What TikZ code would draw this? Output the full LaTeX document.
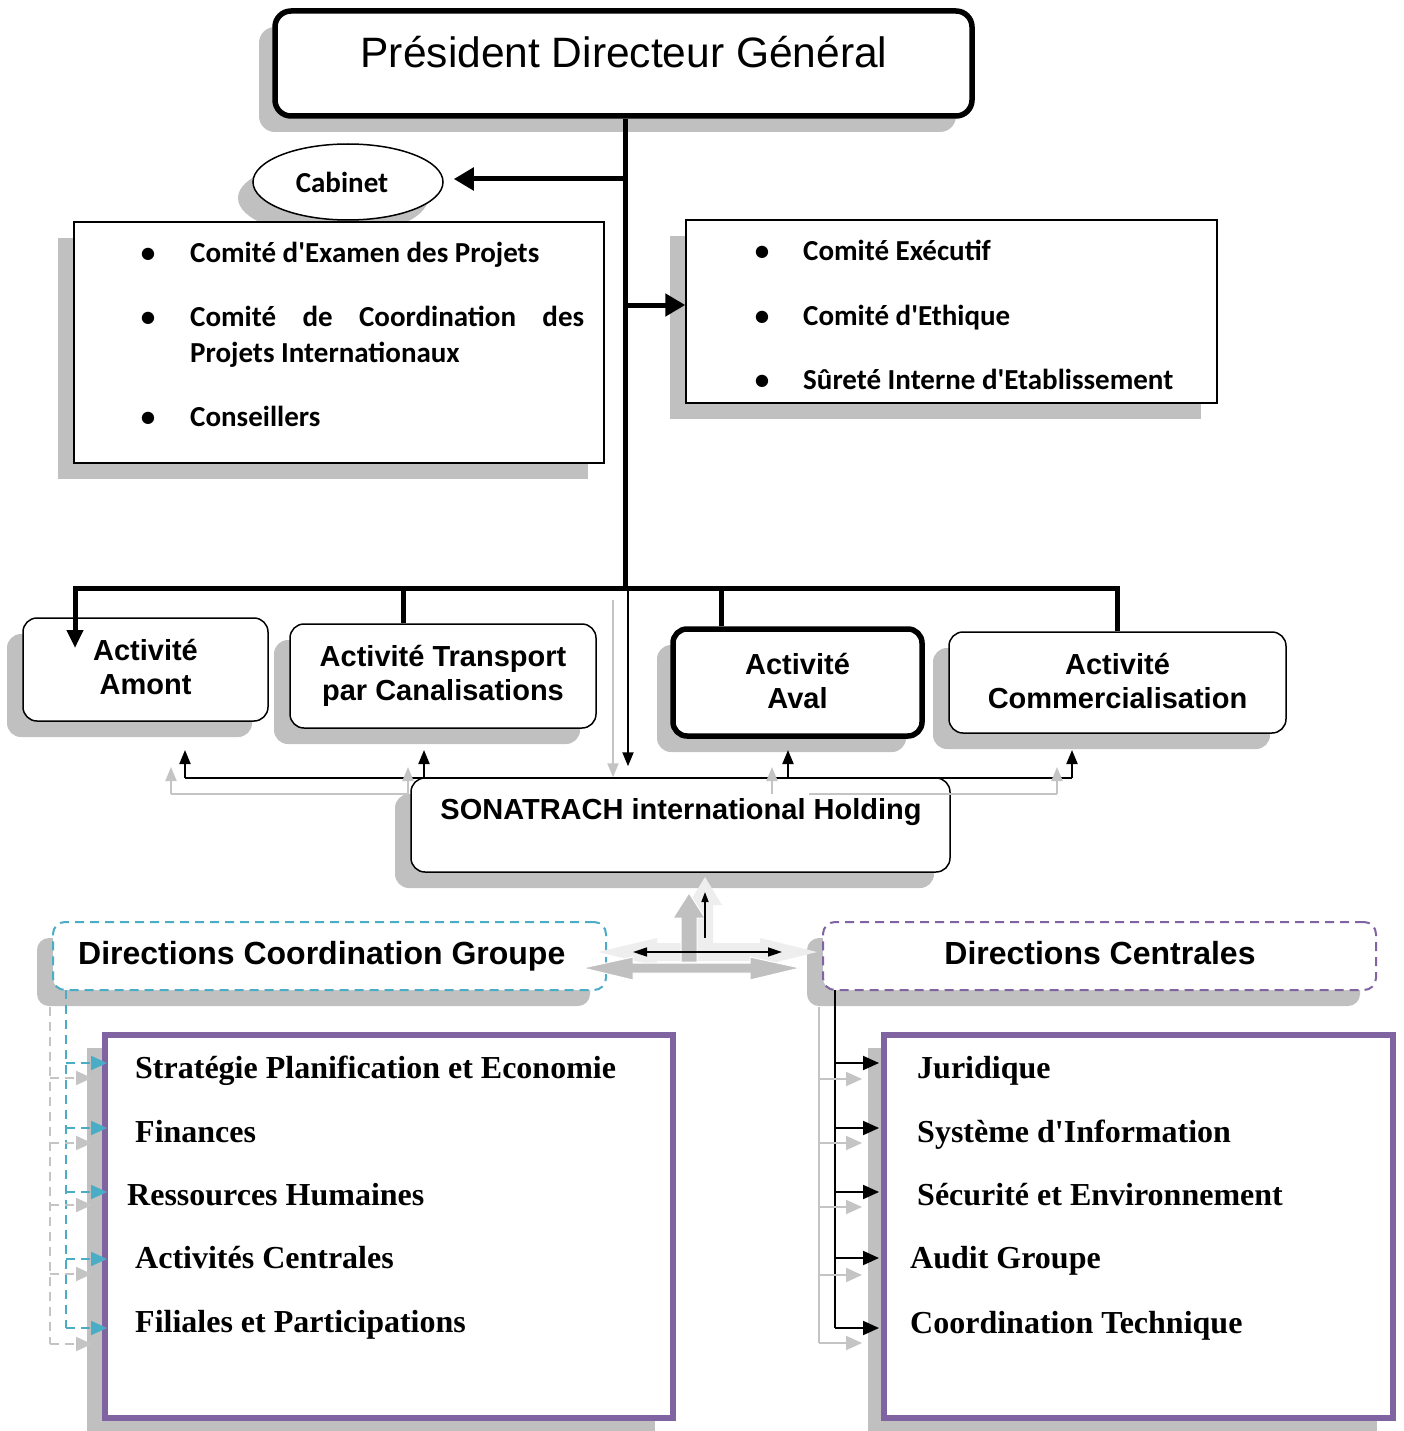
\documentclass[tikz,border=0pt]{standalone}
\usepackage{fontspec}
\setmainfont{Liberation Sans}
\newfontfamily\calib{Carlito}
\newfontfamily\serifb{Liberation Serif}
\usetikzlibrary{arrows.meta,shapes.geometric,shadows}

\definecolor{shade}{RGB}{192,192,192}
\definecolor{ghost}{RGB}{196,196,196}
\definecolor{pale}{RGB}{238,238,238}
\definecolor{dircyan}{RGB}{75,172,198}
\definecolor{dirviolet}{RGB}{128,100,162}

\tikzset{
  sh/.style={drop shadow={shadow xshift=-16pt, shadow yshift=-16pt, fill=shade, opacity=1}},
  box/.style={draw=black, fill=white, line width=1.5pt, inner sep=0pt, align=center},
  rbox/.style={box, rounded corners=14pt},
  actfont/.style={font=\fontsize{29}{34}\selectfont\bfseries, inner sep=0pt},
  comfont/.style={font=\calib\fontsize{29}{34}\selectfont\bfseries, inner sep=0pt},
  listfont/.style={font=\serifb\fontsize{32}{36}\selectfont\bfseries, inner sep=0pt, anchor=base west},
  dirfont/.style={font=\fontsize{32}{36}\selectfont\bfseries, inner sep=0pt},
  bigarrow/.style={line width=5pt, -{Triangle[length=20pt,width=22pt]}},
  trunk/.style={line width=5pt},
  conn/.style={line width=2pt, -{Triangle[length=14pt,width=11pt]}},
  ghostconn/.style={ghost, line width=2pt, -{Triangle[length=14pt,width=11pt]}},
  branch/.style={line width=2pt, -{Triangle[length=16pt,width=14pt]}},
  dashes/.style={dash pattern=on 9pt off 6pt},
}

\begin{document}
\begin{tikzpicture}[x=1pt,y=-1pt]
\fill[white] (0,0) rectangle (1403,1431);
\useasboundingbox (0,0) rectangle (1403,1431);

% ---------- top: president, cabinet, committees ----------
\node[rbox, sh, line width=5.5pt, rounded corners=16pt,
      minimum width=697pt, minimum height=105pt] (pdg) at (623.5,63.5) {};
\node[font=\fontsize{42.5}{48}\selectfont, inner sep=0pt, anchor=base] (pdgtxt) at (624,68) {Président Directeur Général};

\node[ellipse, box, comfont, drop shadow={shadow xshift=-15pt, shadow yshift=-16pt, fill=shade, opacity=1},
      minimum width=190pt, minimum height=76pt] (cab) at (348,182) {\hspace*{-12pt}Cabinet};

\node[box, sh, minimum width=530pt, minimum height=241pt] (lcom) at (339,342.5) {};
\node[box, sh, minimum width=531pt, minimum height=183pt] (rcom) at (951.5,311.5) {};

% committee entries
\foreach \y in {262,326,426} \node[comfont, anchor=base] at (148,\y) {•};
\node[comfont, anchor=base west] (l1) at (190,262) {Comité d\textquotesingle Examen des Projets};
\node[comfont, anchor=base west] (l2) at (190,326) {\makebox[394pt][s]{Comité de Coordination des}};
\node[comfont, anchor=base west] (l3) at (190,362) {Projets Internationaux};
\node[comfont, anchor=base west] (l4) at (190,426) {Conseillers};

\foreach \y in {261,325,389} \node[comfont, anchor=base] at (762,\y) {•};
\node[comfont, anchor=base west] (r1) at (803,261) {Comité Exécutif};
\node[comfont, anchor=base west] (r2) at (803,325) {Comité d\textquotesingle Ethique};
\node[comfont, anchor=base west] (r3) at (803,389) {Sûreté Interne d\textquotesingle Etablissement};

% ---------- activities ----------
\node[rbox, sh, actfont, minimum width=245pt, minimum height=103pt] (amont) at (145.5,669.5) {Activité\\Amont\\[-28pt]};
\node[rbox, sh, actfont, minimum width=306pt, minimum height=104pt] (trans) at (443,676) {Activité Transport\\par Canalisations};
\node[rbox, sh, actfont, line width=5.5pt, minimum width=249pt, minimum height=107pt] (aval) at (797.5,682.5) {Activité\\Aval\\[-30pt]};
\node[rbox, sh, actfont, minimum width=337pt, minimum height=101pt] (comm) at (1117.5,682.5) {Activité\\Commercialisation\\[-30pt]};

\node[rbox, sh, minimum width=539pt, minimum height=94pt] (hold) at (680.5,825) {};
\node[actfont, anchor=base] (holdtxt) at (681,819.5) {SONATRACH international Holding};

% ---------- main trunk and bus ----------
\coordinate (hub) at (625,588);
\coordinate (busL) at (75,588);
\coordinate (dT) at (403,588);
\coordinate (dA) at (721,588);
\coordinate (cabj) at (625,179);
\coordinate (comj) at (625,305);

\draw[trunk] (pdg.south -| hub) -- (hub);
\draw[bigarrow, shorten >=10pt] (cabj) -- (cabj -| cab.east);
\draw[bigarrow] (comj) -- (comj -| rcom.west);
\draw[trunk, -{Triangle[length=18pt,width=16pt]}] (comm.north) -- (comm.north |- hub) -- (busL) -- ++(0,60);
\draw[trunk] (dT) -- (dT |- trans.north);
\draw[trunk] (dA) -- (dA |- aval.north);

% ---------- holding links ----------
\coordinate (hd) at (628,590);
\coordinate (gd) at (613,600);
\draw[ghostconn] (gd) -- (gd |- hold.north);
\draw[conn, shorten >=11pt] (hd) -- (hd |- hold.north);

\coordinate (hb1) at (185,778);
\coordinate (hb2) at (424,778);
\coordinate (hb3) at (788,778);
\coordinate (hb4) at (1072,778);
\draw[line width=2pt] (hb1) -- (hb4);
\foreach \c in {hb1,hb2,hb3,hb4} \draw[conn] (\c) -- ++(0,-28);

\coordinate (hg1) at (171,794);
\coordinate (hg2) at (408,794);
\coordinate (hg3) at (772,794);
\coordinate (hg4) at (1057,794);
\coordinate (hg5) at (809,794);
\draw[ghost, line width=2pt] (hg1) -- (hg2);
\draw[ghost, line width=2pt] (hg5) -- (hg4);
\foreach \c in {hg1,hg2,hg3,hg4} \draw[ghostconn] (\c) -- ++(0,-27);

% ---------- direction groups ----------
\node[rbox, sh, draw=dircyan, line width=2pt, dashes, rounded corners=12pt,
      minimum width=553pt, minimum height=68pt] (dcg) at (329.5,956) {};
\node[dirfont, anchor=base west] (dcgtxt) at (78,964.5) {Directions Coordination Groupe};
\node[rbox, sh, draw=dirviolet, line width=2pt, dashes, rounded corners=12pt,
      minimum width=553pt, minimum height=68pt] (dc) at (1099.5,956) {};
\node[dirfont, anchor=base] (dctxt) at (1100,964.5) {Directions Centrales};

% exchange arrows between the groups and the holding
\fill[pale] (598,952) -- (657,938) -- (657,943) -- (693,943) -- (693,905) -- (688,905) -- (705,877)
  -- (722,905) -- (713,905) -- (713,943) -- (760,943) -- (760,938) -- (817,952) -- (760,966)
  -- (760,961) -- (657,961) -- (657,966) -- cycle;
\filldraw[fill=shade, draw=white, line width=1pt] (583,968) -- (633,957) -- (633,963) -- (750,963)
  -- (750,957) -- (800,968) -- (750,980) -- (750,973) -- (633,973) -- (633,980) -- cycle;
\filldraw[fill=shade, draw=white, line width=1pt] (681,962) -- (681,918) -- (673,918) -- (689,893)
  -- (705,918) -- (697,918) -- (697,962) -- cycle;
\coordinate (xl) at (633,952);
\coordinate (xr) at (782,952);
\coordinate (xu0) at (705,938);
\coordinate (xu1) at (705,892);
\draw[line width=1.5pt, {Triangle[length=14pt,width=9pt]}-{Triangle[length=14pt,width=9pt]}] (xl) -- (xr);
\draw[line width=1.5pt, -{Triangle[length=10pt,width=7pt]}] (xu0) -- (xu1);

% ---------- lists ----------
\node[draw=dirviolet, fill=white, line width=6pt, inner sep=0pt, minimum width=568pt, minimum height=383pt,
      drop shadow={shadow xshift=-18pt, shadow yshift=-13pt, fill=shade, opacity=1}] (lst) at (389,1226.5) {};
\node[draw=dirviolet, fill=white, line width=6pt, inner sep=0pt, minimum width=509pt, minimum height=383pt,
      drop shadow={shadow xshift=-16pt, shadow yshift=-13pt, fill=shade, opacity=1}] (rst) at (1138.5,1226.5) {};

\node[listfont] (a1) at (135,1078) {Stratégie Planification et Economie};
\node[listfont] (a2) at (135,1142) {Finances};
\node[listfont] (a3) at (127,1205) {Ressources Humaines};
\node[listfont] (a4) at (135,1268) {Activités Centrales};
\node[listfont] (a5) at (135,1332) {Filiales et Participations};

\node[listfont] (b1) at (917,1078) {Juridique};
\node[listfont] (b2) at (917,1142) {Système d\textquotesingle Information};
\node[listfont] (b3) at (917,1205) {Sécurité et Environnement};
\node[listfont] (b4) at (910,1268) {Audit Groupe};
\node[listfont] (b5) at (910,1333) {Coordination Technique};

% left group links
\coordinate (ct) at (66,990);
\coordinate (gt) at (50,1007);
\draw[dircyan, line width=2pt, dashes] (ct) -- (66,1328);
\foreach \y in {1063,1128,1192,1259,1328}
  \draw[dircyan, dashes, branch] (66,\y) -- (107,\y);
\draw[ghost, line width=2pt, dashes] (gt) -- (50,1344);
\foreach \y in {1078,1143,1205,1274,1344}
  \draw[ghost, dashes, branch] (50,\y) -- (92,\y);

% right group links
\coordinate (kt) at (835,990);
\coordinate (qt) at (819,1007);
\draw[line width=2pt] (kt) -- (835,1328);
\foreach \y in {1063,1128,1192,1258,1328}
  \draw[branch] (835,\y) -- (879,\y);
\draw[ghost, line width=2pt] (qt) -- (819,1343);
\foreach \y in {1079,1143,1207,1275,1343}
  \draw[ghost, branch] (819,\y) -- (862,\y);
\end{tikzpicture}
\end{document}
